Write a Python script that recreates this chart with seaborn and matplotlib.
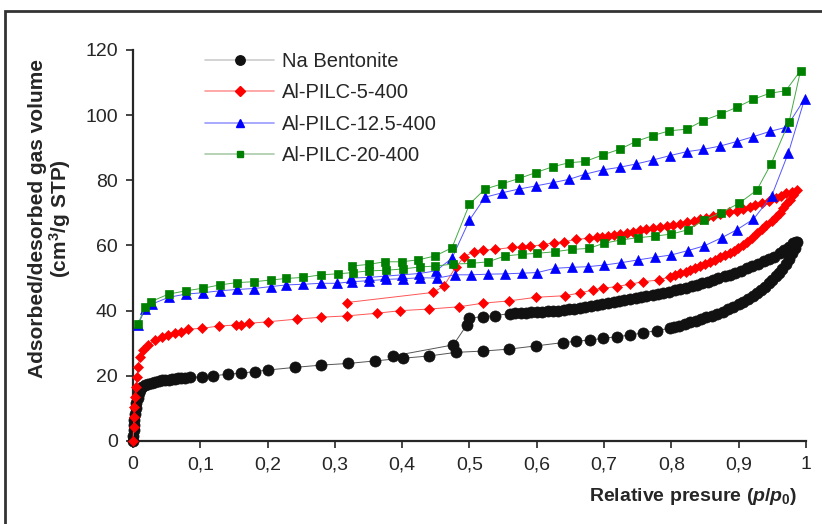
import numpy as np
import pandas as pd
import matplotlib
matplotlib.use('Agg')
import matplotlib.pyplot as plt
import seaborn as sns
from matplotlib.lines import Line2D
from matplotlib.patches import Rectangle

# ---- data (adsorption branch, then desorption branch) ----
nb_p_ads = [0.0, 0.0005, 0.001, 0.0015, 0.002, 0.003, 0.004, 0.005, 0.007, 0.009, 0.011, 0.013,
            0.018, 0.023, 0.028, 0.033, 0.038, 0.043, 0.048, 0.053, 0.058, 0.063, 0.067, 0.072,
            0.077, 0.084, 0.102, 0.119, 0.141, 0.160, 0.181, 0.201, 0.241, 0.280, 0.320, 0.360,
            0.401, 0.440, 0.480, 0.520, 0.559, 0.599, 0.639, 0.658, 0.679, 0.699, 0.719, 0.738,
            0.758, 0.779, 0.798, 0.804, 0.812, 0.820, 0.828, 0.836, 0.844, 0.852, 0.860, 0.868,
            0.876, 0.884, 0.892, 0.900, 0.907, 0.914, 0.921, 0.927, 0.933, 0.939, 0.945, 0.950,
            0.955, 0.960, 0.965, 0.970, 0.975, 0.979, 0.983, 0.986]
nb_v_ads = [0.0, 1.5, 3.4, 5.0, 6.5, 8.3, 10.0, 11.6, 13.2, 14.6, 15.8, 16.7,
            17.2, 17.6, 17.9, 18.2, 18.4, 18.6, 18.7, 18.8, 18.9, 19.05, 19.2, 19.3,
            19.4, 19.5, 19.7, 20.0, 20.5, 20.8, 21.3, 21.8, 22.6, 23.3, 23.8, 24.6,
            25.4, 26.1, 27.2, 27.6, 28.2, 29.2, 30.2, 30.6, 31.0, 31.5, 32.0, 32.5,
            33.2, 33.9, 34.6, 35.0, 35.4, 35.9, 36.4, 36.9, 37.4, 38.0, 38.5, 39.1,
            39.7, 40.4, 41.2, 42.0, 42.8, 43.7, 44.6, 45.5, 46.4, 47.4, 48.5, 49.5,
            50.5, 51.6, 52.8, 54.2, 56.0, 57.6, 59.2, 61.0]
nb_p_des = [0.985, 0.981, 0.975, 0.968, 0.961, 0.953, 0.945, 0.937, 0.928, 0.920, 0.912, 0.903,
            0.895, 0.887, 0.879, 0.870, 0.862, 0.854, 0.846, 0.838, 0.830, 0.821, 0.813, 0.805,
            0.797, 0.788, 0.780, 0.772, 0.763, 0.755, 0.747, 0.738, 0.730, 0.722, 0.714, 0.706,
            0.697, 0.689, 0.681, 0.672, 0.664, 0.656, 0.648, 0.640, 0.632, 0.624, 0.616, 0.608,
            0.600, 0.592, 0.584, 0.576, 0.568, 0.560, 0.538, 0.520, 0.500, 0.496, 0.476, 0.387]
nb_v_des = [61.2, 60.7, 59.5, 58.5, 57.6, 56.6, 55.9, 55.2, 54.4, 53.8, 53.0, 52.3,
            51.6, 51.0, 50.5, 49.9, 49.4, 48.9, 48.4, 47.9, 47.5, 47.0, 46.6, 46.2,
            45.8, 45.5, 45.1, 44.8, 44.5, 44.1, 43.8, 43.5, 43.2, 42.9, 42.6, 42.3,
            42.0, 41.7, 41.4, 41.1, 40.8, 40.6, 40.4, 40.2, 40.0, 39.9, 39.8, 39.7,
            39.6, 39.5, 39.4, 39.3, 39.2, 39.1, 38.5, 38.2, 37.7, 35.6, 29.5, 26.1]

a5_p_ads = [0.0, 0.001, 0.0015, 0.002, 0.003, 0.004, 0.006, 0.008, 0.010, 0.015, 0.023, 0.033,
            0.043, 0.052, 0.062, 0.072, 0.082, 0.103, 0.128, 0.153, 0.161, 0.172, 0.201, 0.243,
            0.280, 0.318, 0.362, 0.397, 0.440, 0.485, 0.520, 0.559, 0.599, 0.642, 0.664, 0.684,
            0.699, 0.719, 0.738, 0.758, 0.781, 0.798, 0.806, 0.813, 0.821, 0.828, 0.835, 0.842,
            0.850, 0.857, 0.865, 0.872, 0.880, 0.887, 0.893, 0.899, 0.906, 0.912, 0.920, 0.927,
            0.934, 0.941, 0.949, 0.956, 0.961, 0.966, 0.971, 0.976, 0.981, 0.986]
a5_v_ads = [0.0, 4.4, 7.5, 10.5, 13.6, 16.7, 19.7, 22.8, 25.9, 27.9, 29.5, 31.0,
            31.8, 32.5, 33.0, 33.6, 34.3, 34.6, 35.3, 35.6, 35.6, 36.1, 36.6, 37.4,
            38.0, 38.4, 39.2, 40.0, 40.5, 41.2, 42.3, 43.0, 44.1, 44.6, 45.4, 46.4,
            46.9, 47.4, 48.1, 48.9, 49.4, 50.4, 50.9, 51.5, 52.0, 52.5, 53.1, 53.7,
            54.3, 55.0, 55.7, 56.4, 57.0, 57.6, 58.3, 59.1, 60.1, 61.2, 62.4, 63.7,
            65.0, 66.3, 67.5, 68.8, 70.1, 71.4, 72.7, 74.0, 75.5, 77.0]
a5_p_des = [0.979, 0.971, 0.963, 0.956, 0.945, 0.934, 0.925, 0.917, 0.907, 0.897, 0.885, 0.872,
            0.862, 0.852, 0.843, 0.833, 0.823, 0.813, 0.803, 0.793, 0.783, 0.773, 0.763, 0.753,
            0.743, 0.734, 0.724, 0.715, 0.706, 0.697, 0.689, 0.677, 0.659, 0.640, 0.625, 0.609,
            0.590, 0.578, 0.563, 0.538, 0.520, 0.506, 0.492, 0.480, 0.462, 0.446, 0.318]
a5_v_des = [76.4, 76.0, 75.2, 74.5, 73.7, 73.0, 72.4, 71.9, 71.3, 70.7, 70.2, 69.7,
            69.0, 68.4, 68.0, 67.6, 67.1, 66.6, 66.3, 66.0, 65.6, 65.3, 65.0, 64.8,
            64.1, 63.8, 63.5, 63.2, 62.9, 62.7, 62.5, 62.2, 61.9, 61.1, 60.9, 60.2,
            59.8, 59.6, 59.4, 58.8, 58.6, 58.1, 56.5, 53.5, 47.6, 45.6, 42.5]

a12_p_ads = [0.007, 0.018, 0.028, 0.053, 0.079, 0.104, 0.129, 0.154, 0.180, 0.205, 0.228, 0.253,
             0.279, 0.303, 0.326, 0.351, 0.376, 0.401, 0.427, 0.452, 0.478, 0.502, 0.528, 0.553,
             0.578, 0.601, 0.627, 0.652, 0.676, 0.700, 0.725, 0.751, 0.776, 0.800, 0.824, 0.849,
             0.875, 0.897, 0.922, 0.949, 0.974, 0.998]
a12_v_ads = [35.5, 40.4, 42.0, 44.1, 45.1, 45.5, 46.1, 46.5, 46.8, 47.4, 47.9, 48.1,
             48.4, 48.4, 48.9, 49.2, 49.6, 49.8, 50.1, 50.0, 51.0, 51.0, 51.2, 51.3,
             51.5, 51.7, 53.0, 53.3, 53.5, 54.0, 54.7, 55.6, 56.4, 57.1, 58.4, 59.9,
             62.4, 64.8, 68.1, 75.2, 88.5, 105.0]
a12_p_des = [0.971, 0.946, 0.922, 0.897, 0.872, 0.847, 0.823, 0.798, 0.772, 0.747, 0.723, 0.698,
             0.672, 0.648, 0.624, 0.599, 0.573, 0.549, 0.523, 0.500, 0.474, 0.450, 0.425, 0.400,
             0.375, 0.350, 0.324]
a12_v_des = [96.3, 95.0, 93.4, 91.9, 90.5, 89.5, 88.8, 87.6, 86.2, 85.0, 84.0, 83.2,
             81.9, 80.3, 79.3, 78.3, 77.3, 76.2, 74.8, 67.8, 56.1, 52.2, 51.4, 51.0,
             50.6, 50.2, 50.0]

a20_p_ads = [0.007, 0.018, 0.027, 0.053, 0.079, 0.104, 0.129, 0.154, 0.180, 0.205, 0.228, 0.253,
             0.279, 0.304, 0.327, 0.350, 0.376, 0.401, 0.426, 0.449, 0.476, 0.502, 0.528, 0.553,
             0.578, 0.601, 0.627, 0.652, 0.677, 0.700, 0.725, 0.751, 0.776, 0.800, 0.824, 0.849,
             0.874, 0.901, 0.927, 0.948, 0.975, 0.992]
a20_v_ads = [35.8, 41.0, 42.8, 45.1, 46.1, 46.9, 47.9, 48.6, 48.9, 49.4, 49.9, 50.2,
             51.0, 51.3, 51.7, 52.2, 52.4, 52.8, 53.4, 53.7, 54.3, 54.5, 55.0, 56.8,
             57.3, 57.6, 58.1, 58.8, 59.1, 60.7, 61.7, 62.4, 62.9, 63.5, 64.8, 67.8,
             70.1, 73.0, 77.0, 85.0, 98.0, 113.7]
a20_p_des = [0.970, 0.946, 0.922, 0.897, 0.874, 0.847, 0.823, 0.797, 0.772, 0.747, 0.724, 0.698,
             0.672, 0.648, 0.624, 0.599, 0.574, 0.548, 0.523, 0.500, 0.474, 0.449, 0.424, 0.399,
             0.374, 0.350, 0.325]
a20_v_des = [107.5, 106.7, 104.9, 102.4, 100.4, 98.3, 95.7, 95.2, 93.7, 91.9, 89.6, 87.8,
             85.8, 85.4, 84.2, 82.4, 80.6, 78.9, 77.3, 72.7, 59.3, 56.8, 55.6, 55.0,
             55.0, 54.2, 53.7]

labels = ['Na Bentonite', 'Al-PILC-5-400', 'Al-PILC-12.5-400', 'Al-PILC-20-400']
x_ticks = [0, 0.1, 0.2, 0.3, 0.4, 0.5, 0.6, 0.7, 0.8, 0.9, 1]
x_tick_labels = ['0', '0,1', '0,2', '0,3', '0,4', '0,5', '0,6', '0,7', '0,8', '0,9', '1']
y_ticks = [0, 20, 40, 60, 80, 100, 120]

series = [
    (nb_p_ads + nb_p_des, nb_v_ads + nb_v_des),
    (a5_p_ads + a5_p_des, a5_v_ads + a5_v_des),
    (a12_p_ads + a12_p_des, a12_v_ads + a12_v_des),
    (a20_p_ads + a20_p_des, a20_v_ads + a20_v_des),
]

# styles
mk_colors = ['#111111', '#ff0000', '#0000ff', '#008000']
ln_colors = ['#555555', '#ff5555', '#5555ff', '#44aa44']
leg_colors = ['#cccccc', '#ff9999', '#9999ff', '#aaccaa']
markers = ['o', 'D', '^', 's']
msizes = [8.0, 5.4, 7.4, 5.4]

sns.set_style('ticks')
plt.rcParams['font.family'] = ['Liberation Sans', 'DejaVu Sans']
plt.rcParams['mathtext.fontset'] = 'custom'
plt.rcParams['mathtext.rm'] = 'Liberation Sans:bold'
plt.rcParams['mathtext.it'] = 'Liberation Sans:italic:bold'

fig = plt.figure(figsize=(8.22, 5.24), dpi=100)
ax = fig.add_axes([0.1618, 0.1584, 0.8187, 0.7462])

for i, (p, v) in enumerate(series):
    df = pd.DataFrame({'p': p, 'V': v})
    sns.lineplot(data=df, x='p', y='V', sort=False, estimator=None, ax=ax,
                 color=ln_colors[i], lw=0.7, marker=markers[i], markersize=msizes[i],
                 markerfacecolor=mk_colors[i], markeredgecolor=mk_colors[i],
                 markeredgewidth=0.5, clip_on=False, zorder=3 + i)

ax.set_xlim(0, 1)
ax.set_ylim(0, 120)
ax.set_xticks(x_ticks)
ax.set_xticklabels(x_tick_labels)
ax.set_yticks(y_ticks)
ax.tick_params(axis='both', direction='out', length=5, width=1.2, labelsize=14, pad=6)
for s in ['top', 'right']:
    ax.spines[s].set_visible(False)
for s in ['left', 'bottom']:
    ax.spines[s].set_linewidth(1.6)

ax.set_ylabel('Adsorbed/desorbed gas volume\n(cm$^3$/g STP)', fontsize=15,
              fontweight='bold', linespacing=1.0)
ax.yaxis.set_label_coords(-0.089, 0.568)
ax.set_xlabel('Relative presure ($p/p_0$)', fontsize=14, fontweight='bold', ha='right')
ax.xaxis.set_label_coords(0.987, -0.115)

handles = [Line2D([], [], color=leg_colors[i], lw=1.2, marker=markers[i],
                  markersize=msizes[i] * 0.85, markerfacecolor=mk_colors[i],
                  markeredgecolor=mk_colors[i]) for i in range(4)]
ax.legend(handles, labels, loc='upper left', bbox_to_anchor=(0.107, 0.995),
          frameon=False, fontsize=14.5, handlelength=3.45, handletextpad=0.35,
          labelspacing=0.62, borderpad=0, borderaxespad=0)

fig.add_artist(Rectangle((0.006, -0.05), 1.2, 1.029, transform=fig.transFigure,
                         fill=False, lw=2.0, ec='#333333'))

fig.savefig('out.png', dpi=100)
